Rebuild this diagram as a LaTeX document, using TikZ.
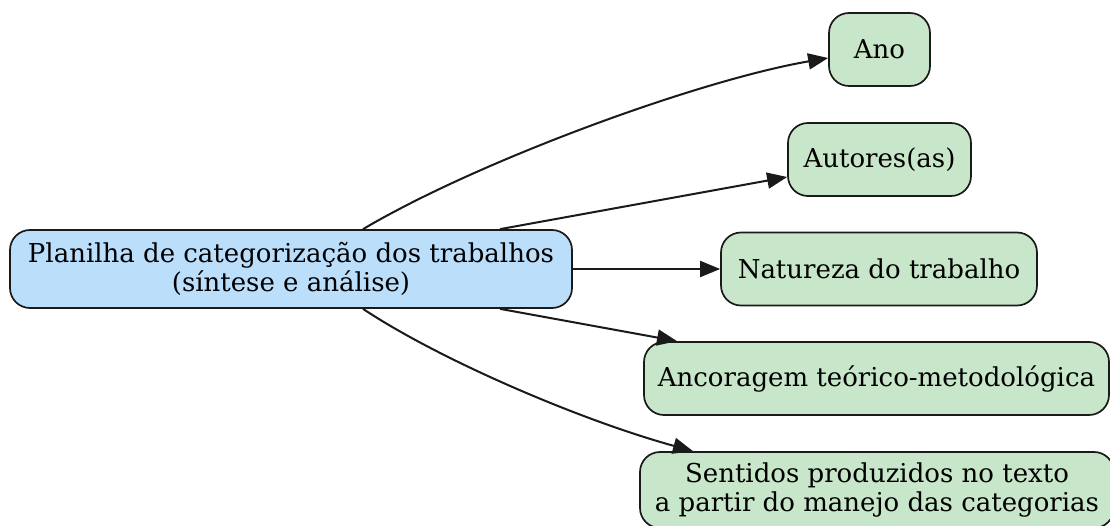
\documentclass[tikz,border=0pt]{standalone}
\usepackage{fontspec}
\setmainfont{DejaVu Serif}
\usetikzlibrary{arrows.meta,calc}
\definecolor{mainfill}{HTML}{BBDEFB}
\definecolor{leaffill}{HTML}{C8E6C9}
\definecolor{edgecol}{HTML}{1A1A1A}
\begin{document}
\begin{tikzpicture}[x=1pt,y=-1pt,
  box/.style={draw=edgecol,line width=1.7pt,rounded corners=20pt,inner sep=0pt,align=center,
    font=\fontsize{26}{29}\selectfont},
  mainbox/.style={box,fill=mainfill},
  leaf/.style={box,fill=leaffill},
  conn/.style={draw=edgecol,line width=2pt,-{Triangle[length=20pt,width=16pt]}}]
\clip (0,0) rectangle (1110,526);
\fill[white] (0,0) rectangle (1110,526);
\node[mainbox,minimum width=562pt,minimum height=78pt] (main) at (291,269)
  {Planilha de categorização dos trabalhos\\(síntese e análise)};
\node[leaf,minimum width=101pt,minimum height=73pt] (ano) at (879.5,49.5) {Ano};
\node[leaf,minimum width=183pt,minimum height=73pt] (aut) at (879.5,159.5) {Autores(as)};
\node[leaf,minimum width=316pt,minimum height=73pt] (nat) at (879,269) {Natureza do trabalho};
\node[leaf,minimum width=465pt,minimum height=73pt] (anc) at (876.5,378.5) {Ancoragem teórico-metodológica};
\node[leaf,minimum width=474pt,minimum height=76pt] (sen) at (877,490)
  {Sentidos produzidos no texto\\a partir do manejo das categorias};
\draw[conn] ($(main.north)+(72,0)$) .. controls (480,160) and (700,80) .. ($(ano.west)+(0,8.5)$);
\draw[conn] ($(main.north)+(209,0)$) -- ($(aut.west)+(0,17.5)$);
\draw[conn] (main.east) -- (nat.west);
\draw[conn] ($(main.south)+(209,0)$) -- ($(anc.north)+(-199.5,0)$);
\draw[conn] ($(main.south)+(72,0)$) .. controls (440,360) and (580,420) .. ($(sen.north)+(-184,0)$);
\end{tikzpicture}
\end{document}
